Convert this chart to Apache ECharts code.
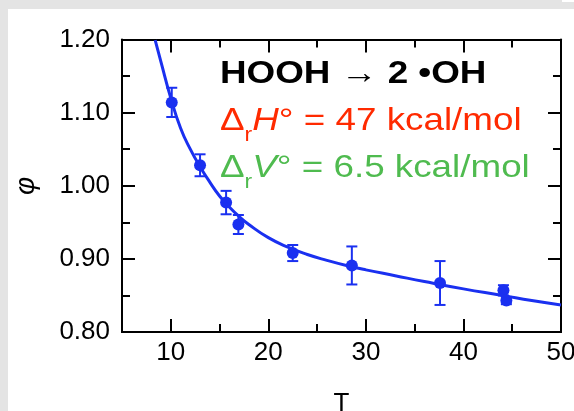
<!DOCTYPE html>
<html>
<head>
<meta charset="utf-8">
<script src="https://cdn.jsdelivr.net/npm/echarts@6/dist/echarts.min.js"></script>
<style>
  html, body { margin: 0; padding: 0; background: #fff; }
  #area { width: 574px; height: 411px; }
</style>
</head>
<body>
<div id="area"></div>
<script>
// measured points (T, phi, +/- error)
var ptT = [10.1, 13.0, 15.67, 16.93, 22.5, 28.56, 37.6, 44.1, 44.4];
var ptPhi = [1.114, 1.028, 0.977, 0.947, 0.908, 0.891, 0.867, 0.857, 0.843];
var ptErr = [0.020, 0.015, 0.016, 0.013, 0.011, 0.026, 0.030, 0.007, 0.005];

// fitted curve
var curveT = [8.4, 9, 10, 11, 12, 13, 14, 15, 16, 17, 18, 20, 22, 24, 26, 28, 30, 33, 36, 40, 44, 47, 50];
var curvePhi = [1.199, 1.169, 1.120, 1.079, 1.050, 1.026, 1.005, 0.986, 0.971, 0.958, 0.947, 0.929, 0.916,
                0.906, 0.898, 0.891, 0.885, 0.877, 0.869, 0.859, 0.850, 0.843, 0.837];

var xMajor = [10, 20, 30, 40, 50];
var xMinor = [15, 25, 35, 45];

var blue = '#1a30f0';
var fontName = '"Liberation Sans", Arial, sans-serif';

var pts = ptT.map(function (t, i) { return [t, ptPhi[i]]; });
var bars = ptT.map(function (t, i) { return [t, ptPhi[i] - ptErr[i], ptPhi[i] + ptErr[i]]; });
var curve = curveT.map(function (t, i) { return [t, curvePhi[i]]; });

var lineStyle = { color: '#000', width: 2 };

function xAx(pos, ticks, len, labels) {
    return {
        type: 'value', position: pos, min: 5, max: 50,
        axisLine: { show: true, onZero: false, lineStyle: lineStyle },
        axisTick: { show: true, inside: true, length: len, customValues: ticks, lineStyle: lineStyle },
        axisLabel: labels ? {
            show: true, customValues: xMajor, margin: 8,
            fontSize: 26, color: '#000', fontFamily: fontName
        } : { show: false },
        splitLine: { show: false },
        name: labels ? 'T' : '',
        nameLocation: 'middle', nameGap: 59,
        nameTextStyle: { fontSize: 26, color: '#000', fontFamily: fontName }
    };
}

function yAx(pos, labels) {
    return {
        type: 'value', position: pos, min: 0.8, max: 1.2, interval: 0.1,
        axisLine: { show: true, onZero: false, lineStyle: lineStyle },
        axisTick: { show: true, inside: true, length: 13, lineStyle: lineStyle },
        minorTick: { show: true, splitNumber: 2, length: 8, lineStyle: lineStyle },
        axisLabel: labels ? {
            show: true, margin: 12, fontSize: 26, color: '#000', fontFamily: fontName,
            formatter: function (v) { return v.toFixed(2); }
        } : { show: false },
        splitLine: { show: false },
        minorSplitLine: { show: false },
        name: labels ? 'φ' : '',
        nameLocation: 'middle', nameGap: 82,
        nameTextStyle: { fontSize: 28, fontStyle: 'italic', color: '#000', fontFamily: fontName }
    };
}

var rich = {
    d: { fontSize: 32, fontFamily: fontName },
    r: { fontSize: 20, fontFamily: fontName, padding: [28, 0, 0, 0] },
    i: { fontSize: 32, fontStyle: 'italic', fontFamily: fontName },
    n: { fontSize: 32, fontFamily: fontName }
};

var chart = echarts.init(document.getElementById('area'));
chart.setOption({
    backgroundColor: '#fff',
    animation: false,
    grid: { left: 122, right: 13, top: 39.5, bottom: 79, containLabel: false, outerBoundsMode: 'none' },
    xAxis: [
        xAx('bottom', xMajor, 13, true),
        xAx('bottom', xMinor, 8, false),
        xAx('top', xMajor, 13, false),
        xAx('top', xMinor, 8, false)
    ],
    yAxis: [yAx('left', true), yAx('right', false)],
    graphic: [
        { type: 'rect', shape: { x: 0, y: 0, width: 574, height: 9 }, style: { fill: '#e4e4e4' }, silent: true },
        { type: 'rect', shape: { x: 0, y: 0, width: 8, height: 411 }, style: { fill: '#e4e4e4' }, silent: true },
        { type: 'rect', shape: { x: 562, y: 0, width: 12, height: 2 }, style: { fill: '#fff' }, silent: true },
        {
            type: 'text', x: 220, y: 58, scaleX: 1.15, z: 100,
            style: { text: 'HOOH → 2 •OH', fill: '#000', font: 'bold 32px ' + fontName, align: 'left', verticalAlign: 'top' }
        },
        {
            type: 'text', x: 220, y: 103, scaleX: 1.15, z: 100,
            style: { text: '{d|Δ}{r|r}{i|H}{n|° = 47 kcal/mol}', fill: '#ff2a00', lineHeight: 36, rich: rich, align: 'left', verticalAlign: 'top' }
        },
        {
            type: 'text', x: 220, y: 150, scaleX: 1.15, z: 100,
            style: { text: '{d|Δ}{r|r}{i|V}{n|° = 6.5 kcal/mol}', fill: '#4fbb4f', lineHeight: 36, rich: rich, align: 'left', verticalAlign: 'top' }
        }
    ],
    series: [
        {
            type: 'line', data: curve, smooth: true,
            showSymbol: false, clip: true,
            lineStyle: { color: blue, width: 3 }
        },
        {
            type: 'custom', data: bars,
            renderItem: function (params, api) {
                var top = api.coord([api.value(0), api.value(2)]);
                var bot = api.coord([api.value(0), api.value(1)]);
                var w = 5.5;
                var st = { stroke: blue, lineWidth: 2 };
                return {
                    type: 'group',
                    children: [
                        { type: 'line', shape: { x1: top[0], y1: top[1], x2: bot[0], y2: bot[1] }, style: st },
                        { type: 'line', shape: { x1: top[0] - w, y1: top[1], x2: top[0] + w, y2: top[1] }, style: st },
                        { type: 'line', shape: { x1: bot[0] - w, y1: bot[1], x2: bot[0] + w, y2: bot[1] }, style: st }
                    ]
                };
            }
        },
        {
            type: 'scatter', data: pts, symbol: 'circle', symbolSize: 12,
            itemStyle: { color: blue, opacity: 1 }
        }
    ]
});
</script>
</body>
</html>
